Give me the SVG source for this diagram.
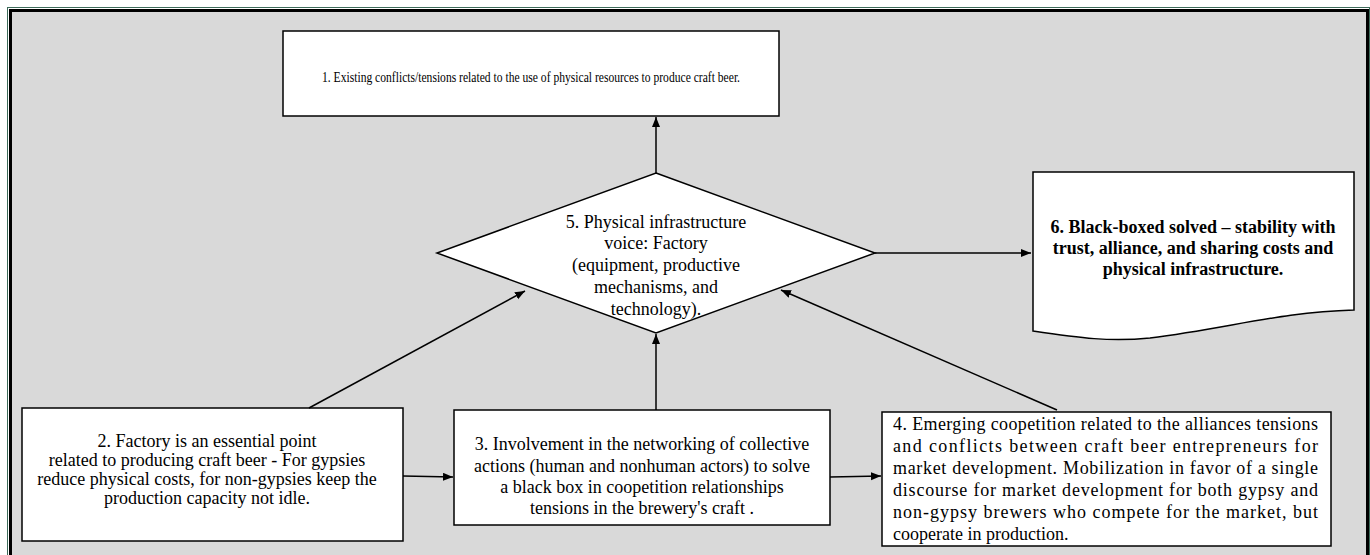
<svg xmlns="http://www.w3.org/2000/svg" width="1370" height="555" viewBox="0 0 1370 555">
<style>
.box{fill:#fff;stroke:#000;stroke-width:1.5}
.t{font-family:"Liberation Serif","Times New Roman",serif;font-size:18px;fill:#000}
.c{text-anchor:middle}
.b{font-weight:bold}
.con{stroke:#000;stroke-width:1.5;fill:none;marker-end:url(#ah)}
</style>
<defs>
<marker id="ah" markerUnits="userSpaceOnUse" markerWidth="11" markerHeight="9" refX="10" refY="4" orient="auto">
<path d="M0,0 L10,4 L0,8 Z" fill="#000"/>
</marker>
</defs>
<rect x="7.5" y="7.5" width="1362" height="560" fill="none" stroke="#3d6b5a" stroke-width="1"/>
<rect x="10.5" y="10.5" width="1357" height="560" fill="#d9d9d9" stroke="#000" stroke-width="3"/>

<g id="node1">
<rect class="box" x="283" y="31" width="496" height="85"/>
<text class="t c" x="531" y="82" style="font-size:15px" textLength="418" lengthAdjust="spacingAndGlyphs">1. Existing conflicts/tensions related to the use of physical resources to produce craft beer.</text>
</g>

<g id="node5">
<polygon class="box" points="656,173 875,253 656,333 437,253"/>
<text class="t c" x="656" y="228">5. Physical infrastructure</text>
<text class="t c" x="656" y="249">voice: Factory</text>
<text class="t c" x="656" y="271">(equipment, productive</text>
<text class="t c" x="656" y="293">mechanisms, and</text>
<text class="t c" x="656" y="315">technology).</text>
</g>

<g id="node6">
<path class="box" d="M1033,172 H1354 V310 C1280,312 1230,328 1150,338 C1110,342 1080,338 1033,331 Z"/>
<text class="t c b" x="1193" y="233">6. Black-boxed solved – stability with</text>
<text class="t c b" x="1193" y="254">trust, alliance, and sharing costs and</text>
<text class="t c b" x="1193" y="275">physical infrastructure.</text>
</g>

<g id="node2">
<rect class="box" x="22" y="408" width="381" height="133"/>
<text class="t c" x="207" y="447">2. Factory is an essential point</text>
<text class="t c" x="207" y="466">related to producing craft beer - For gypsies</text>
<text class="t c" x="207" y="485">reduce physical costs, for non-gypsies keep the</text>
<text class="t c" x="207" y="504">production capacity not idle.</text>
</g>

<g id="node3">
<rect class="box" x="454" y="410" width="376" height="115"/>
<text class="t c" x="642" y="450">3. Involvement in the networking of collective</text>
<text class="t c" x="642" y="472">actions (human and nonhuman actors) to solve</text>
<text class="t c" x="642" y="493">a black box in coopetition relationships</text>
<text class="t c" x="642" y="514">tensions in the brewery's craft .</text>
</g>

<g id="node4">
<rect class="box" x="882" y="412" width="449" height="134"/>
<text class="t" x="893" y="430" textLength="425" lengthAdjust="spacing">4. Emerging coopetition related to the alliances tensions</text>
<text class="t" x="893" y="452" textLength="425" lengthAdjust="spacing">and conflicts between craft beer entrepreneurs for</text>
<text class="t" x="893" y="474" textLength="425" lengthAdjust="spacing">market development. Mobilization in favor of a single</text>
<text class="t" x="893" y="496" textLength="425" lengthAdjust="spacing">discourse for market development for both gypsy and</text>
<text class="t" x="893" y="518" textLength="425" lengthAdjust="spacing">non-gypsy brewers who compete for the market, but</text>
<text class="t" x="893" y="540">cooperate in production.</text>
</g>

<g id="connectors">
<line class="con" x1="656" y1="173" x2="656" y2="117"/>
<line class="con" x1="309" y1="408" x2="525" y2="291"/>
<line class="con" x1="656" y1="410" x2="656" y2="334"/>
<line class="con" x1="1057" y1="410" x2="781" y2="290"/>
<line class="con" x1="875" y1="253" x2="1031" y2="253"/>
<line class="con" x1="403" y1="476" x2="453" y2="477"/>
<line class="con" x1="830" y1="477" x2="881" y2="476"/>
</g>
</svg>
